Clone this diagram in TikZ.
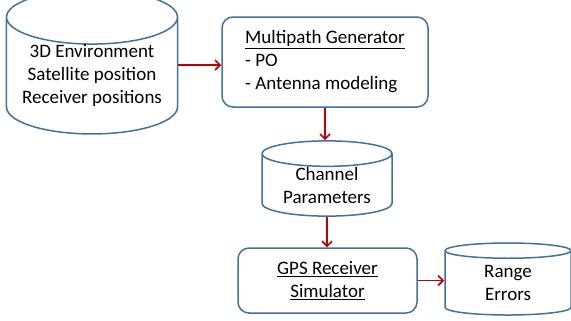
\documentclass[tikz,border=0pt]{standalone}
\usepackage{fontspec}
\setmainfont{Carlito}
\usetikzlibrary{shapes.geometric,arrows.meta}
\definecolor{boxblue}{RGB}{65,113,156}
\definecolor{arrowred}{RGB}{192,0,0}
\tikzset{
  store/.style={draw=boxblue, line width=1.5bp, shape=cylinder, shape border rotate=90, align=center, inner sep=0pt, anchor=shape center},
  block/.style={draw=boxblue, line width=1.5bp, rounded corners=11bp, align=left, inner sep=0pt},
  flow/.style={draw=arrowred, line width=1.6bp, -{Straight Barb[length=5bp,width=10bp]}}
}
\begin{document}
\begin{tikzpicture}[x=1bp,y=-1bp,font=\fontsize{19bp}{23bp}\selectfont]
\useasboundingbox (0,0) rectangle (571,320);
\node[store, minimum width=171bp, minimum height=121bp, aspect=0.386] (env) at (92,62) {3D Environment\\Satellite position\\Receiver positions};
\node[block, minimum width=206bp, minimum height=90bp] (mpg) at (325,62) {\underline{Multipath Generator}\\- PO\\- Antenna modeling};
\node[store, minimum width=130bp, minimum height=74bp, aspect=0.29] (chan) at (327,178.5) {Channel\\Parameters};
\node[block, align=center, minimum width=179bp, minimum height=65bp] (gps) at (327.5,280.5) {\underline{GPS Receiver}\\\underline{Simulator}};
\node[store, minimum width=126bp, minimum height=72bp, aspect=0.32] (rng) at (508,279) {Range\\Errors};

\path[flow] ([yshift=-3bp]mpg.west -| env.east) -- ([yshift=-3bp]mpg.west);
\path[flow] (mpg.south) -- (mpg.south |- chan.north);
\path[flow] (chan.south) -- (chan.south |- gps.north);
\path[flow] (gps.east) -- (gps.east -| rng.west);
\end{tikzpicture}
\end{document}
